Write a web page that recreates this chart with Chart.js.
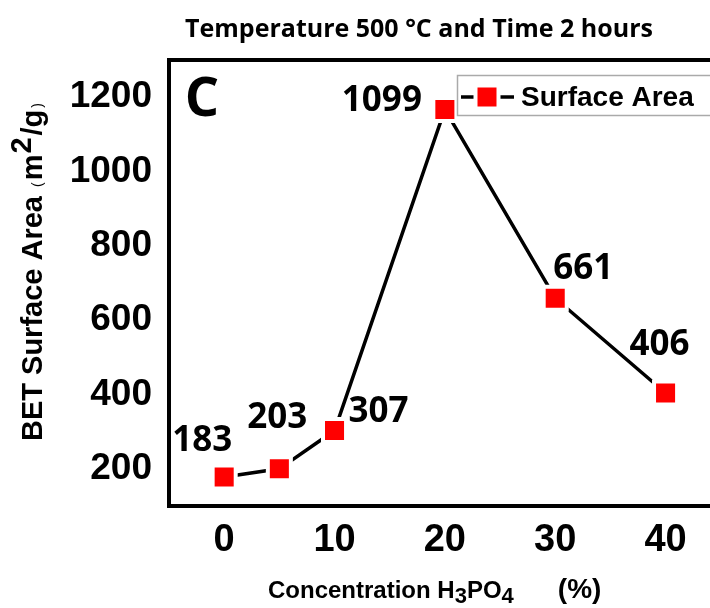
<!DOCTYPE html>
<html>
<head>
<meta charset="utf-8">
<script src="https://cdn.jsdelivr.net/npm/chart.js"></script>
<style>
html,body{margin:0;padding:0;background:#fff;overflow:hidden;}
#wrap{width:730px;height:608px;}
</style>
</head>
<body>
<div id="wrap"><canvas id="chart" width="730" height="608"></canvas></div>
<script>
// datos
var CONCENTRACION=[0,5,10,20,30,40];
var AREA=[178,200,303,1167,659,404];
var ETIQUETAS=['183','203','307','1099','661','406'];
var TICKS_X=[0,10,20,30,40];
var TICKS_Y=[200,400,600,800,1000,1200];
var SERIE='Surface Area';
var TITULO='Temperature 500 °C and Time 2 hours';

var FUENTE_NUM='"Open Sans", "Liberation Sans", sans-serif';
var FUENTE_EJE='"Liberation Sans", Arial, sans-serif';

// dibuja trozos de texto seguidos (sub/superindices); centrado o desde x
function dibujaTramos(ctx,tramos,x,y,centrado){
	var total=0;
	for(var i=0;i<tramos.length;i++){
		ctx.font=tramos[i].f;
		total+=ctx.measureText(tramos[i].t).width+(tramos[i].gap||0);
	}
	var px=centrado ? x-total/2 : x;
	for(var i=0;i<tramos.length;i++){
		ctx.font=tramos[i].f;
		px+=(tramos[i].gap||0);
		ctx.fillText(tramos[i].t,px,y+(tramos[i].dy||0));
		px+=ctx.measureText(tramos[i].t).width;
	}
}

function marcador(ctx,x,y){
	ctx.fillStyle='#fff';
	ctx.fillRect(x-13.5,y-13.5,27,27);
	ctx.fillStyle='#ff0000';
	ctx.fillRect(x-9.5,y-9.5,19,19);
}

// marco: el lado derecho queda fuera de la imagen
var marco={
	id:'marco',
	beforeDatasetsDraw:function(chart){
		var a=chart.chartArea, ctx=chart.ctx;
		ctx.save();
		ctx.strokeStyle='#000';
		ctx.lineWidth=4;
		ctx.beginPath();
		ctx.moveTo(chart.width,a.top);
		ctx.lineTo(a.left,a.top);
		ctx.lineTo(a.left,a.bottom);
		ctx.lineTo(chart.width,a.bottom);
		ctx.stroke();
		ctx.restore();
	}
};

var textos={
	id:'textos',
	afterDraw:function(chart,args,opts){
		var ctx=chart.ctx;
		ctx.save();
		ctx.fillStyle='#000';
		ctx.textAlign='center';
		ctx.textBaseline='middle';
		//titulo
		ctx.font='bold 25px '+FUENTE_NUM;
		ctx.fillText(TITULO,419,30);
		//letra del panel
		ctx.font='bold 54px '+FUENTE_NUM;
		ctx.fillText('C',202,101);
		//etiquetas de los puntos
		var meta=chart.getDatasetMeta(0);
		ctx.font='bold 35px '+FUENTE_NUM;
		for(var i=0;i<meta.data.length;i++){
			var p=meta.data[i];
			ctx.fillText(ETIQUETAS[i],p.x+opts.desplazamientos[i][0],p.y+opts.desplazamientos[i][1]);
		}
		//titulo eje x
		ctx.textAlign='left';
		ctx.textBaseline='alphabetic';
		var fx='bold 24px '+FUENTE_EJE;
		var fs='bold 22px '+FUENTE_EJE;
		dibujaTramos(ctx,[
			{t:'Concentration H',f:fx},
			{t:'3',f:fs,dy:5},
			{t:'PO',f:fx},
			{t:'4',f:fs,dy:5},
			{t:'(%)',f:'bold 28px '+FUENTE_EJE,gap:44}
		],268,598,false);
		//titulo eje y
		ctx.translate(32,272);
		ctx.rotate(-Math.PI/2);
		var fy='bold 29px '+FUENTE_EJE;
		dibujaTramos(ctx,[
			{t:'BET Surface Area',f:fy},
			{t:'(',f:'14px '+FUENTE_EJE,gap:9},
			{t:'m',f:fy,gap:2},
			{t:'2',f:fy,dy:-11,gap:1},
			{t:'/g',f:fy,gap:2},
			{t:')',f:'14px '+FUENTE_EJE,gap:2}
		],0,10,true);
		ctx.restore();

		//leyenda
		ctx.save();
		ctx.strokeStyle='#aaa';
		ctx.lineWidth=1.5;
		ctx.strokeRect(457.5,75.5,300,40);
		ctx.strokeStyle='#000';
		ctx.lineWidth=3.5;
		ctx.beginPath();
		ctx.moveTo(461,97);
		ctx.lineTo(514,97);
		ctx.stroke();
		marcador(ctx,487,97);
		ctx.fillStyle='#000';
		ctx.font='bold 28px '+FUENTE_EJE;
		ctx.textAlign='left';
		ctx.textBaseline='middle';
		ctx.fillText(chart.data.datasets[0].label,521,98);
		ctx.restore();
	}
};

var puntos=[];
for(i=0;i<CONCENTRACION.length;i++){
	puntos.push({x:CONCENTRACION[i],y:AREA[i]});
}

var config={
	type:'line',
	data:{
		datasets:[{
			label:SERIE,
			data:puntos,
			borderColor:'#000',
			borderWidth:3.5,
			tension:0,
			pointStyle:'rect',
			pointRadius:16.3,
			pointBackgroundColor:'#ff0000',
			pointBorderColor:'#fff',
			pointBorderWidth:4,
			fill:false
		}]
	},
	options:{
		responsive:false,
		animation:false,
		events:[],
		layout:{padding:{left:0,right:0,top:60,bottom:0}},
		plugins:{
			legend:{display:false},
			title:{display:false},
			tooltip:{enabled:false},
			textos:{
				desplazamientos:[[-22,-36],[-2,-51],[44,-19],[-63,-8],[28,-29],[-6,-48]]
			}
		},
		scales:{
			x:{
				type:'linear',
				min:-5,
				max:44,
				grid:{display:false,drawTicks:false},
				border:{display:false},
				afterBuildTicks:function(s){ s.ticks=TICKS_X.map(function(v){return {value:v};}); },
				afterFit:function(s){ s.height=102; s.paddingLeft=0; s.paddingRight=0; },
				ticks:{
					padding:12,
					color:'#000',
					font:{family:FUENTE_EJE,size:38,weight:'bold'},
					callback:function(v){ return String(v); }
				}
			},
			y:{
				min:100,
				max:1300,
				grid:{display:false,drawTicks:false},
				border:{display:false},
				afterBuildTicks:function(s){ s.ticks=TICKS_Y.map(function(v){return {value:v};}); },
				afterFit:function(s){ s.width=169; s.paddingTop=0; s.paddingBottom=0; },
				ticks:{
					padding:17,
					color:'#000',
					font:{family:FUENTE_EJE,size:37,weight:'bold'},
					callback:function(v){ return String(v); }
				}
			}
		}
	},
	plugins:[marco,textos]
};

new Chart(document.getElementById('chart').getContext('2d'),config);
</script>
</body>
</html>
